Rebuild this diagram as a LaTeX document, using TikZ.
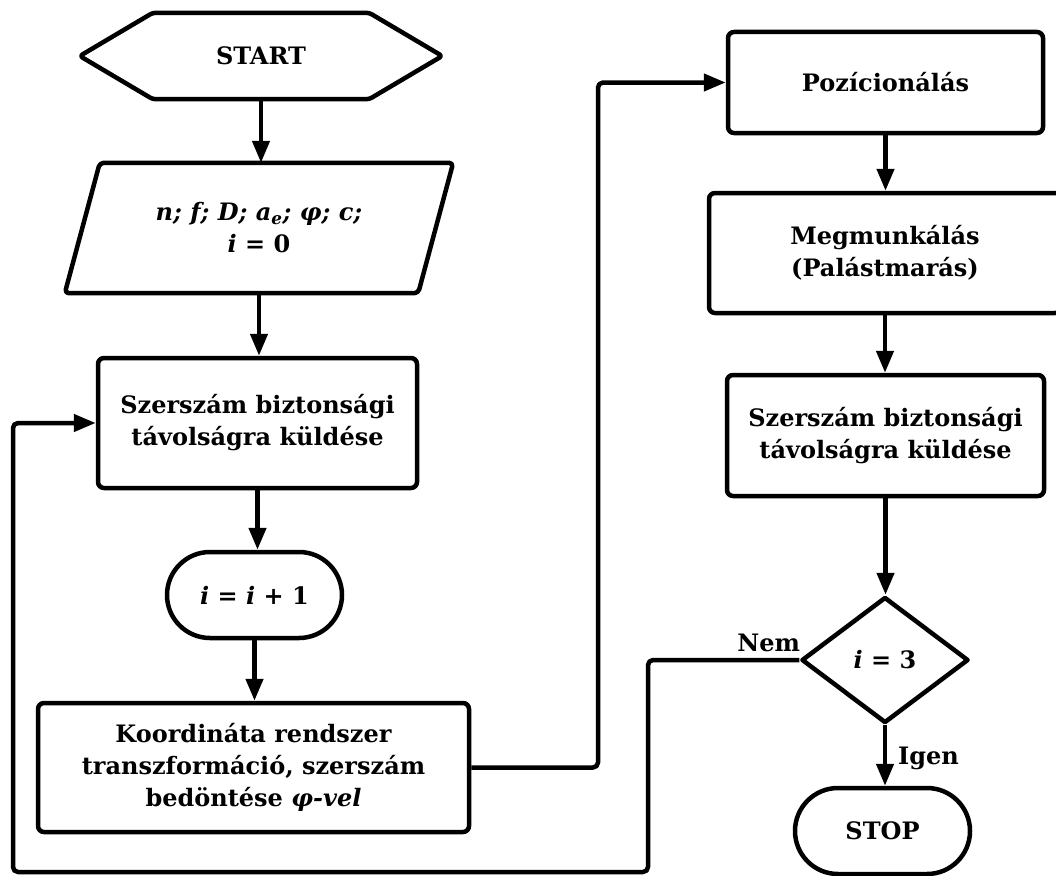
\documentclass[tikz,border=0pt]{standalone}
\usepackage{fontspec}
\setmainfont{DejaVu Serif}
\usetikzlibrary{arrows.meta,shapes.misc,shapes.geometric,calc}
\begin{document}
\begin{tikzpicture}[x=1pt,y=-1pt,
  font=\fontsize{24}{32}\selectfont\bfseries,
  ln/.style={line width=4.5pt,line join=round},
  arr/.style={ln,-{Triangle[length=22pt,width=17pt]}},
  txt/.style={rectangle,align=center,inner sep=0pt},
  box/.style={txt,draw,ln,rounded corners=6pt},
  pill/.style={rounded rectangle,draw,ln,align=center,inner sep=0pt,minimum width=175,minimum height=86},
  dia/.style={diamond,draw,ln,align=center,inner sep=0pt,minimum width=167,minimum height=126,aspect=1.325},
  lbl/.style={inner sep=0pt}
]
\useasboundingbox (0,0) rectangle (1056,875);
\fill[white] (0,0) rectangle (1056,875);

% left column
\node[txt,minimum width=362,minimum height=86] (start) at (261,56) {START};
\draw[ln,rounded corners=3pt] (start.west) -- ($(start.north west)+(73,0)$) -- ($(start.north east)+(-73,0)$) -- (start.east) -- ($(start.south east)+(-73,0)$) -- ($(start.south west)+(73,0)$) -- cycle;

\node[txt,minimum width=318,minimum height=130] (inp) at (259,228)
  {{\itshape n; f; D; a\textsubscript{e}; φ; c;}\\{\itshape i} = 0};
\draw[ln,rounded corners=4pt] (inp.north west) -- ($(inp.north east)+(35,0)$) -- (inp.south east) -- ($(inp.south west)+(-35,0)$) -- cycle;

\node[box,minimum width=319,minimum height=130] (sz1) at (257.5,423)
  {Szerszám biztonsági\\távolságra küldése};
\node[pill] (inc) at (254.5,595) {{\itshape i} = {\itshape i} + 1};
\node[box,minimum width=431,minimum height=129] (koord) at (253.5,767.5)
  {Koordináta rendszer\\transzformáció, szerszám\\bedöntése {\itshape φ-vel}};

% right column
\node[box,minimum width=315,minimum height=101] (poz) at (885.5,82.5) {Pozícionálás};
\node[box,minimum width=352,minimum height=120] (megm) at (885,253)
  {Megmunkálás\\(Palástmarás)};
\node[box,minimum width=317,minimum height=121] (sz2) at (885.5,435.5)
  {Szerszám biztonsági\\távolságra küldése};
\node[dia] (dec) at (885,660) {{\itshape i} = 3};
\node[pill] (stop) at (882.5,831) {STOP};

\node[lbl,anchor=base east] (nem) at ($(dec.west)+(1,-9)$) {Nem};
\node[lbl,anchor=base west] (igen) at (898,764) {Igen};

% helper coordinates
\coordinate (nemdown) at (648,872);
\coordinate (loopleft) at (13,872);
\coordinate (upline) at (598,500);

% connectors
\draw[arr] (start.south) -- (start.south |- inp.north);
\draw[arr] (inp.south) -- (inp.south |- sz1.north);
\draw[arr] (sz1.south) -- (sz1.south |- inc.north);
\draw[arr] (inc.south) -- (inc.south |- koord.north);
\draw[arr,rounded corners=5pt] (koord.east) -| (upline) |- (poz.west);
\draw[arr] (poz.south) -- (poz.south |- megm.north);
\draw[arr] (megm.south) -- (megm.south |- sz2.north);
\draw[arr] (sz2.south) -- (sz2.south |- dec.north);
\draw[arr] (dec.south) -- (dec.south |- stop.north);
\draw[arr,rounded corners=5pt] (dec.west) -| (nemdown) -- (loopleft) |- (sz1.west);
\end{tikzpicture}
\end{document}
